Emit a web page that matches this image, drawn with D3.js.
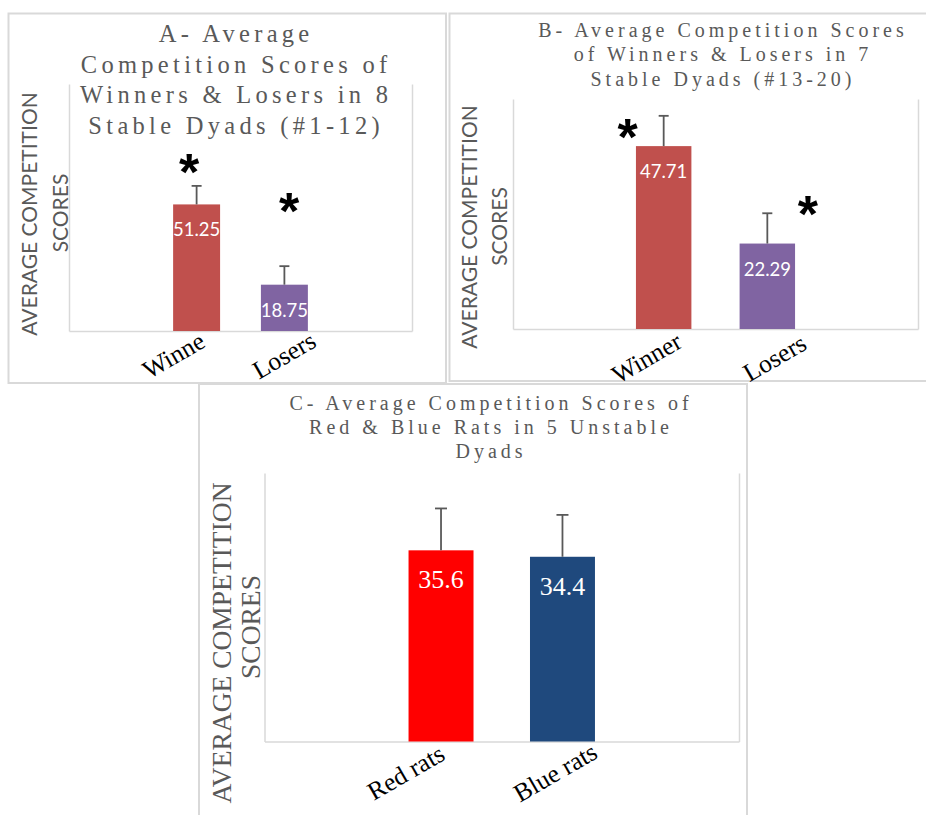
<!DOCTYPE html>
<html>
<head>
<meta charset="utf-8">
<script src="https://cdn.jsdelivr.net/npm/d3@7"></script>
<style>
  html, body { margin: 0; padding: 0; background: #ffffff; overflow: hidden; }
  svg { display: block; }
</style>
</head>
<body>
<svg id="chart" width="926" height="815"></svg>
<script>
// ---- Panel A: stable dyads #1-12 ----
const categoriesA = ["Winne", "Losers"];
const meansA = [51.25, 18.75];
const errorsA = [7.5, 7.5];
const starLevelsA = [68, 52.3];
const yMaxA = 100;
const titleA = ["A- Average", "Competition Scores of", "Winners & Losers in 8", "Stable Dyads (#1-12)"];

// ---- Panel B: stable dyads #13-20 ----
const categoriesB = ["Winner", "Losers"];
const meansB = [47.71, 22.29];
const errorsB = [7.9, 7.9];
const starLevelsB = [52.4, 32.3];
const yMaxB = 60;
const titleB = ["B- Average Competition Scores", "of Winners & Losers in 7", "Stable Dyads (#13-20)"];

// ---- Panel C: unstable dyads ----
const categoriesC = ["Red rats", "Blue rats"];
const meansC = [35.6, 34.4];
const errorsC = [7.8, 7.8];
const yMaxC = 50;
const titleC = ["C- Average Competition Scores of", "Red & Blue Rats in 5 Unstable", "Dyads"];

const axisTitleLines = ["AVERAGE COMPETITION", "SCORES"];

const GRID = "#d9d9d9";
const TEXT_GREY = "#595959";
const SERIF = "'Liberation Serif', 'Times New Roman', serif";
const SANS = "Lato, 'Liberation Sans', sans-serif";

const svg = d3.select("#chart");

function drawPanel(cfg) {
  const g = svg.append("g");

  // panel border
  g.append("rect")
    .attr("x", cfg.box[0]).attr("y", cfg.box[1])
    .attr("width", cfg.box[2]).attr("height", cfg.box[3])
    .attr("fill", "none").attr("stroke", GRID).attr("stroke-width", 2);

  const p = cfg.plot;
  const x = d3.scaleBand()
    .domain(cfg.categories)
    .range([p.left, p.right])
    .paddingInner(0.465)
    .paddingOuter(1.186);
  const y = d3.scaleLinear().domain([0, cfg.yMax]).range([p.bottom, p.top]);

  // plot-area frame: left, right and bottom lines drawn as bare axes
  const frame = g.append("g");
  frame.append("g").attr("transform", `translate(${p.left},0)`)
    .call(d3.axisLeft(y).tickValues([]).tickSizeOuter(0));
  frame.append("g").attr("transform", `translate(${p.right},0)`)
    .call(d3.axisRight(y).tickValues([]).tickSizeOuter(0));
  frame.append("g").attr("transform", `translate(0,${p.bottom})`)
    .call(d3.axisBottom(x).tickValues([]).tickSizeOuter(0));
  frame.selectAll(".domain").attr("stroke", GRID).attr("stroke-width", 1.5);

  const rows = cfg.categories.map((c, i) => ({
    cat: c, value: cfg.means[i], err: cfg.errors[i], color: cfg.colors[i]
  }));

  // bars
  g.selectAll("rect.bar").data(rows).join("rect")
    .attr("class", "bar")
    .attr("x", d => x(d.cat))
    .attr("y", d => y(d.value))
    .attr("width", x.bandwidth())
    .attr("height", d => y(0) - y(d.value))
    .attr("fill", d => d.color);

  // error bars (upper whisker only)
  const eb = g.selectAll("g.err").data(rows).join("g").attr("class", "err")
    .attr("stroke", TEXT_GREY).attr("stroke-width", 1.8);
  eb.append("line")
    .attr("x1", d => x(d.cat) + x.bandwidth() / 2)
    .attr("x2", d => x(d.cat) + x.bandwidth() / 2)
    .attr("y1", d => y(d.value))
    .attr("y2", d => y(d.value + d.err));
  eb.append("line")
    .attr("x1", d => x(d.cat) + x.bandwidth() / 2 - cfg.capHalf)
    .attr("x2", d => x(d.cat) + x.bandwidth() / 2 + cfg.capHalf)
    .attr("y1", d => y(d.value + d.err))
    .attr("y2", d => y(d.value + d.err));

  // value labels inside bars
  g.selectAll("text.val").data(rows).join("text")
    .attr("class", "val")
    .attr("x", d => x(d.cat) + x.bandwidth() / 2)
    .attr("y", d => y(d.value) + cfg.valueOffset)
    .attr("text-anchor", "middle")
    .attr("fill", "#ffffff")
    .style("font-family", cfg.valueFont)
    .style("font-size", cfg.valueSize + "px")
    .text(d => String(d.value));

  // significance asterisks
  if (cfg.stars) {
    g.selectAll("text.star").data(cfg.stars).join("text")
      .attr("class", "star")
      .attr("x", (d, i) => x(cfg.categories[i]) + x.bandwidth() / 2 + cfg.starShift[i] * x.bandwidth())
      .attr("y", d => y(d) + 27)
      .attr("text-anchor", "middle")
      .attr("fill", "#000000")
      .style("font-family", "'Liberation Sans', Arial, sans-serif")
      .style("font-weight", "bold")
      .style("font-size", "52px")
      .text("*");
  }

  // rotated category labels
  const lx = d3.scalePoint()
    .domain(cfg.categories)
    .range([p.left + (p.right - p.left) * cfg.labelSpan[0], p.left + (p.right - p.left) * cfg.labelSpan[1]]);
  g.selectAll("text.cat").data(cfg.categories).join("text")
    .attr("class", "cat")
    .attr("transform", d => `translate(${lx(d)},${p.bottom + cfg.labelDrop}) rotate(-30)`)
    .attr("text-anchor", "middle")
    .attr("dominant-baseline", "central")
    .attr("fill", "#000000")
    .style("font-family", SERIF)
    .style("font-size", "25.5px")
    .text(d => d);

  // chart title
  g.append("text")
    .attr("text-anchor", "middle")
    .attr("fill", TEXT_GREY)
    .style("font-family", SERIF)
    .style("font-size", cfg.titleSize + "px")
    .style("letter-spacing", cfg.titleSpacing + "px")
    .selectAll("tspan").data(cfg.title).join("tspan")
    .attr("x", cfg.titleX + cfg.titleSpacing / 2)
    .attr("y", (d, i) => cfg.titleY + i * cfg.titleLead)
    .text(d => d);

  // vertical axis title (two lines)
  g.selectAll("text.ytitle").data(axisTitleLines).join("text")
    .attr("class", "ytitle")
    .attr("transform", (d, i) => `translate(${cfg.yTitleX[i]},${cfg.yTitleY[i]}) rotate(-90)`)
    .attr("text-anchor", "middle")
    .attr("fill", TEXT_GREY)
    .style("font-family", cfg.yTitleFont)
    .style("font-size", cfg.yTitleSize + "px")
    .text(d => d);
}

drawPanel({
  box: [8.5, 13.5, 437.5, 369.5],
  plot: { left: 69, right: 412, top: 84, bottom: 331 },
  categories: categoriesA, means: meansA, errors: errorsA, yMax: yMaxA,
  colors: ["#C0504D", "#8064A2"],
  capHalf: 5,
  valueFont: SANS, valueSize: 18.5, valueOffset: 32,
  stars: starLevelsA, starShift: [-0.16, 0.10],
  labelSpan: [0.305, 0.627], labelDrop: 24.5,
  title: titleA, titleX: 234, titleY: 42.3, titleLead: 30.4, titleSize: 24.5, titleSpacing: 4.3,
  yTitleX: [37.3, 68.3], yTitleY: [214, 213], yTitleFont: SANS, yTitleSize: 21
});

drawPanel({
  box: [449.5, 13.5, 490, 367.5],
  plot: { left: 513, right: 918, top: 99, bottom: 329 },
  categories: categoriesB, means: meansB, errors: errorsB, yMax: yMaxB,
  colors: ["#C0504D", "#8064A2"],
  capHalf: 5,
  valueFont: SANS, valueSize: 18.5, valueOffset: 32,
  stars: starLevelsB, starShift: [-0.65, 0.73],
  labelSpan: [0.33, 0.646], labelDrop: 29,
  title: titleB, titleX: 721, titleY: 36.7, titleLead: 24.7, titleSize: 20, titleSpacing: 4.0,
  yTitleX: [477, 506.7], yTitleY: [227, 226.5], yTitleFont: SANS, yTitleSize: 21
});

drawPanel({
  box: [199, 384, 548, 460],
  plot: { left: 264.5, right: 739, top: 473, bottom: 741.5 },
  categories: categoriesC, means: meansC, errors: errorsC, yMax: yMaxC,
  colors: ["#FF0000", "#1F497D"],
  capHalf: 6,
  valueFont: SERIF, valueSize: 26, valueOffset: 38,
  stars: null,
  labelSpan: [0.298, 0.613], labelDrop: 31,
  title: titleC, titleX: 489, titleY: 409.5, titleLead: 24.3, titleSize: 20, titleSpacing: 4.0,
  yTitleX: [231, 260], yTitleY: [643, 627], yTitleFont: SERIF, yTitleSize: 27.5
});
</script>
</body>
</html>
